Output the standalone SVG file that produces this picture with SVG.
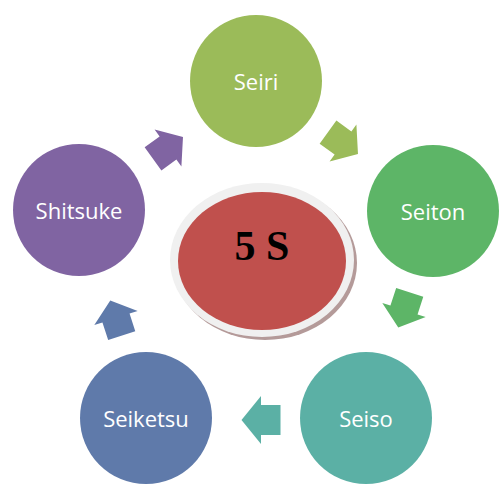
<svg xmlns="http://www.w3.org/2000/svg" width="499" height="489" viewBox="0 0 499 489">
<style>
.lbl{font-family:"Open Sans","Liberation Sans",sans-serif;font-size:22px;fill:#fff;text-anchor:middle;dominant-baseline:central}
</style>
<defs>
<path id="arr" d="M-19.5,0 L0,-24 L0,-15 L19.5,-15 L19.5,15 L0,15 L0,24 Z"/>
</defs>
<rect width="499" height="489" fill="#fff"/>
<g id="center">
<ellipse cx="265" cy="263" rx="92" ry="77" fill="#B49A99"/>
<ellipse cx="262" cy="260" rx="92" ry="77" fill="#F0F0F0"/>
<ellipse cx="262" cy="261" rx="84" ry="69" fill="#C0504D"/>
<text x="262" y="260" font-family="'Liberation Serif',serif" font-weight="bold" font-size="42" text-anchor="middle" fill="#000">5 S</text>
</g>
<g id="seiri"><circle cx="256" cy="81" r="66" fill="#9BBB59"/><text class="lbl" x="256" y="81">Seiri</text></g>
<g id="seiton"><circle cx="433" cy="211" r="66" fill="#5DB567"/><text class="lbl" x="433" y="211">Seiton</text></g>
<g id="seiso"><circle cx="366" cy="418" r="66" fill="#5BB0A5"/><text class="lbl" x="366" y="418">Seiso</text></g>
<g id="seiketsu"><circle cx="146" cy="418" r="66" fill="#5F7AAA"/><text class="lbl" x="146" y="418">Seiketsu</text></g>
<g id="shitsuke"><circle cx="79" cy="210" r="66" fill="#8064A2"/><text class="lbl" x="79" y="210">Shitsuke</text></g>
<g id="connectors">
<use href="#arr" fill="#9BBB59" transform="translate(343,143) rotate(216) scale(0.95)"/>
<use href="#arr" fill="#5DB567" transform="translate(404,310) rotate(288) scale(0.95)"/>
<use href="#arr" fill="#5BB0A5" transform="translate(261,420)"/>
<use href="#arr" fill="#5F7AAA" transform="translate(116,318) rotate(72) scale(0.95)"/>
<use href="#arr" fill="#8064A2" transform="translate(168,148) rotate(144) scale(0.95)"/>
</g>
</svg>
